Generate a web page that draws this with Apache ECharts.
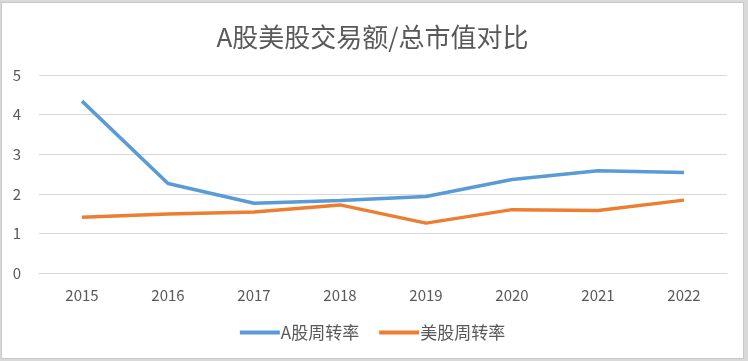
<!DOCTYPE html>
<html><head><meta charset="utf-8">
<script src="https://cdn.jsdelivr.net/npm/echarts@6/dist/echarts.min.js"></script>
<style>
html,body{margin:0;padding:0;background:#d9d9d9;}
#c{position:absolute;left:1px;top:2px;width:741px;height:355px;background:#fff;border:1px solid #c8c8c8;}
</style></head>
<body><div id="c"></div>
<script>
const title = 'A股美股交易额/总市值对比';
const categories = ['2015','2016','2017','2018','2019','2020','2021','2022'];
const seriesNames = ['A股周转率','美股周转率'];
const aShare = [4.34, 2.26, 1.76, 1.83, 1.93, 2.36, 2.58, 2.54];
const usShare = [1.41, 1.49, 1.54, 1.72, 1.26, 1.60, 1.58, 1.84];

const chart = echarts.init(document.getElementById('c'));
const font = '"Noto Sans CJK SC", "Noto Sans", sans-serif';
chart.setOption({
  animation:false,
  title:{text:title,left:'center',top:16,textStyle:{fontFamily:font,fontSize:26,fontWeight:'normal',color:'#595959'}},
  legend:{bottom:12,left:'center',itemWidth:40,itemHeight:4,itemGap:20,icon:'rect',
    textStyle:{fontFamily:font,fontSize:17,color:'#595959',padding:[0,0,0,-4]},data:seriesNames},
  grid:{left:37,right:16,top:72,bottom:85,containLabel:false},
  xAxis:{type:'category',data:categories,boundaryGap:true,
    axisLine:{lineStyle:{color:'#d9d9d9'}},axisTick:{show:false},
    axisLabel:{fontFamily:font,fontSize:15,color:'#595959',margin:15}},
  yAxis:{type:'value',min:0,max:5,interval:1,
    axisLine:{show:false},axisTick:{show:false},
    splitLine:{lineStyle:{color:'#d9d9d9',width:1}},
    axisLabel:{fontFamily:font,fontSize:15,color:'#595959',margin:18}},
  series:[
    {name:seriesNames[0],type:'line',data:aShare,symbol:'none',lineStyle:{width:3.5,color:'#5B9BD5'},itemStyle:{color:'#5B9BD5'}},
    {name:seriesNames[1],type:'line',data:usShare,symbol:'none',lineStyle:{width:3.5,color:'#ED7D31'},itemStyle:{color:'#ED7D31'}}
  ]
});
</script></body></html>
